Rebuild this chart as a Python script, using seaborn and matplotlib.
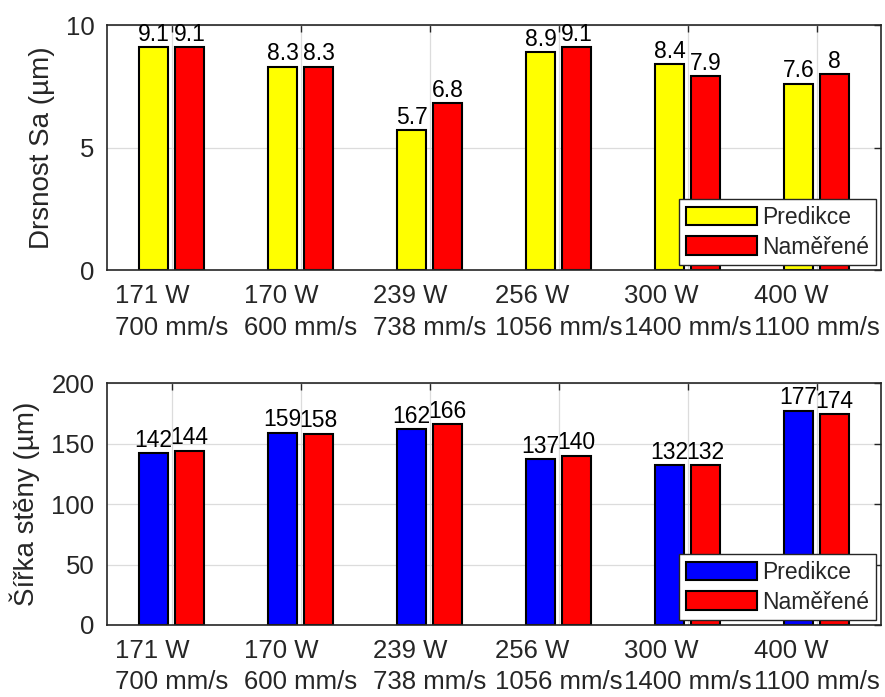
import pandas as pd
import seaborn as sns
import matplotlib.pyplot as plt

# categories (laser power / scan speed)
labels = ["171 W\n700 mm/s", "170 W\n600 mm/s", "239 W\n738 mm/s",
          "256 W\n1056 mm/s", "300 W\n1400 mm/s", "400 W\n1100 mm/s"]
series = ["Predikce", "Naměřené"]

# roughness Sa (um)
sa_pred = [9.1, 8.3, 5.7, 8.9, 8.4, 7.6]
sa_meas = [9.1, 8.3, 6.8, 9.1, 7.9, 8.0]

# wall width (um)
w_pred = [142, 159, 162, 137, 132, 177]
w_meas = [144, 158, 166, 140, 132, 174]

sns.set_style("white")
plt.rcParams['font.family'] = ['Liberation Sans', 'DejaVu Sans']

AX_COL = "#262626"


def draw_panel(ax, pred, meas, pred_color, ylim, yticks, ylabel):
    df = pd.DataFrame({
        "cat": labels * 2,
        "val": pred + meas,
        "series": [series[0]] * len(labels) + [series[1]] * len(labels),
    })
    sns.barplot(data=df, x="cat", y="val", hue="series", order=labels,
                hue_order=series,
                palette={series[0]: pred_color, series[1]: "#ff0000"},
                width=0.56, gap=0.2, edgecolor="black", linewidth=1.5,
                saturation=1, errorbar=None, ax=ax)

    for cont in ax.containers:
        ax.bar_label(cont, fmt="%g", padding=1, fontsize=16.5, color="black")

    ax.set_xlim(-0.5, len(labels) - 0.5)
    ax.set_ylim(*ylim)
    ax.set_yticks(yticks)
    ax.set_xlabel("")
    ax.set_ylabel(ylabel, fontsize=20, color=AX_COL, labelpad=8)

    ax.grid(True, color="#dcdcdc", linewidth=0.9)
    ax.set_axisbelow(True)
    for sp in ax.spines.values():
        sp.set_visible(True)
        sp.set_color(AX_COL)
        sp.set_linewidth(1.2)
    ax.tick_params(axis="both", direction="in", top=True, right=True,
                   length=5, width=1, color=AX_COL, labelcolor=AX_COL,
                   labelsize=18.5)
    ax.tick_params(axis="x", pad=10)
    ax.tick_params(axis="y", pad=9)
    for t in ax.get_xticklabels():
        t.set_multialignment("left")
        t.set_linespacing(1.4)

    handles, lbls = ax.get_legend_handles_labels()
    leg = ax.legend(handles, lbls, loc="lower right", fontsize=16.5,
                    frameon=True, fancybox=False, framealpha=1,
                    edgecolor=AX_COL, borderaxespad=0.2, borderpad=0.3,
                    handlelength=3.1, handleheight=0.85, handletextpad=0.25,
                    labelspacing=0.3)
    leg.get_frame().set_linewidth(1.0)


fig = plt.figure(figsize=(8.85, 6.97), dpi=100)
ax1 = fig.add_axes([0.121, 0.6126, 0.8745, 0.3515])
ax2 = fig.add_axes([0.121, 0.1033, 0.8745, 0.3472])

draw_panel(ax1, sa_pred, sa_meas, "#ffff00", (0, 10), [0, 5, 10],
           "Drsnost Sa (µm)")
draw_panel(ax2, w_pred, w_meas, "#0000ff", (0, 200), [0, 50, 100, 150, 200],
           "Šířka stěny (µm)")

fig.savefig("out.png", dpi=100)
